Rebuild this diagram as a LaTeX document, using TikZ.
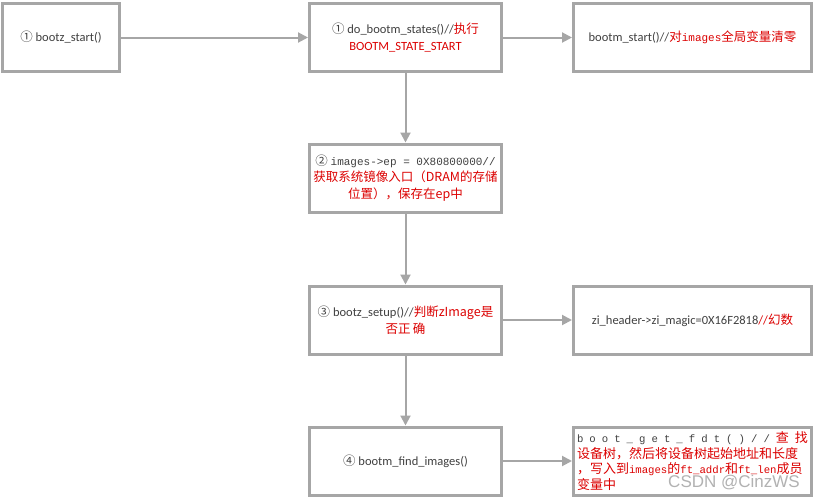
\documentclass[tikz,border=0pt]{standalone}
\usepackage{fontspec}
\setmainfont{Carlito}
\newfontfamily\cjk{Noto Sans CJK SC}
\newfontfamily\mono[Scale=0.88]{Liberation Mono}
\newfontfamily\monoB[Scale=0.82]{Liberation Mono}
\newfontfamily\wm{Liberation Sans}
\usetikzlibrary{arrows.meta}
\definecolor{bordergray}{RGB}{166,166,166}
\definecolor{txtgray}{RGB}{64,64,64}
\definecolor{txtred}{RGB}{220,0,0}
\newcommand{\rd}[1]{\textcolor{txtred}{#1}}
\begin{document}
\begin{tikzpicture}[x=1pt,y=1pt,
  box/.style={draw=bordergray,line width=3pt,minimum height=68pt,inner sep=3pt,
    text=txtgray,font=\fontsize{12.5}{16.5}\selectfont,align=center},
  arr/.style={draw=bordergray,line width=2pt,-{Triangle[length=10pt,width=10pt]}}]
\useasboundingbox[fill=white] (0,0) rectangle (817,-501);
\node[box,minimum width=117pt] (b1) at (61,-37.5) {{\cjk ①} bootz\_start()};
\node[box,minimum width=192pt] (b2) at (405.5,-37.5) {{\cjk ①} do\_bootm\_states()//\rd{\cjk 执行}\\\rd{BOOTM\_STATE\_START}};
\node[box,minimum width=238pt] (b3) at (692.5,-37.5) {bootm\_start()//\rd{\cjk 对{\mono images}全局变量清零}};
\node[box,minimum width=192pt] (b4) at (405.5,-178) {{\cjk ②} {\mono images->ep = 0X80800000//}\\\rd{\cjk 获取系统镜像入口（DRAM的存储}\\\rd{\cjk 位置），保存在ep中}};
\node[box,minimum width=192pt] (b5) at (405.5,-320) {{\cjk ③} bootz\_setup()//\rd{\cjk 判断zImage是}\\\rd{\cjk 否正\,确}};
\node[box,minimum width=238pt] (b6) at (692.5,-320) {zi\_header->zi\_magic=0X16F2818\rd{//\cjk 幻数}};
\node[box,minimum width=192pt] (b7) at (405.5,-461) {{\cjk ④} bootm\_find\_images()};
\node[box,minimum width=238pt,text width=231pt,align=left,inner sep=2pt,text=txtred,
  font=\fontsize{13}{15.5}\selectfont\cjk] (b8) at (692.5,-461)
  {\makebox[231pt][l]{\textcolor{txtgray}{\monoB b\hfill o\hfill o\hfill t\hfill \_\hfill g\hfill e\hfill t\hfill \_\hfill f\hfill d\hfill t\hfill (\hfill )\hfill /\hfill /}\hfill 查\hfill 找}\\
   设备树，然后将设备树起始地址和长度\\
   ，写入到{\monoB images}的{\monoB ft\_addr}和{\monoB ft\_len}成员\\
   变量中};
\node[text=black!30,font=\wm\fontsize{17}{17}\selectfont,inner sep=0pt] (wm) at (734,-483) {CSDN @CinzWS};
\draw[arr] (b1) -- (b2);
\draw[arr] (b2) -- (b3);
\draw[arr] (b2) -- (b4);
\draw[arr] (b4) -- (b5);
\draw[arr] (b5) -- (b6);
\draw[arr] (b5) -- (b7);
\draw[arr] (b7) -- (b8);
\end{tikzpicture}
\end{document}
